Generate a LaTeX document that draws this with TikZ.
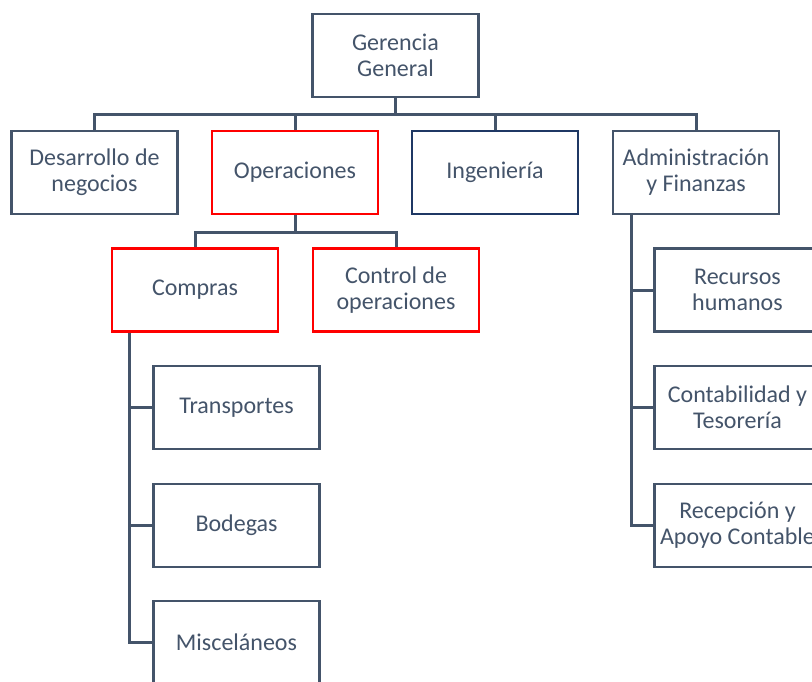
\documentclass[tikz,border=0pt]{standalone}
\usepackage{fontspec}
\setmainfont{Carlito}
\definecolor{slate}{HTML}{44546A}
\definecolor{redbox}{HTML}{FF0000}
\definecolor{navybox}{HTML}{1F3864}
\begin{document}
\begin{tikzpicture}[x=1pt,y=-1pt,
  box/.style={draw=slate,line width=2.5pt,fill=white,minimum width=166pt,minimum height=83pt,
    align=center,text=slate,inner sep=2pt,font=\fontsize{24}{26}\selectfont},
  redb/.style={box,draw=redbox},
  navyb/.style={box,draw=navybox},
  conn/.style={draw=slate,line width=3pt}]
\path[use as bounding box,clip] (0,0) rectangle (812,681);
\fill[white] (0,0) rectangle (812,681);
% nodes
\node[box] (gg) at (395.5,55.5) {Gerencia\\General};
\node[box] (des) at (94.5,172.5) {Desarrollo de\\negocios};
\node[redb] (ope) at (295,172.5) {Operaciones};
\node[navyb] (ing) at (495,172.5) {Ingeniería};
\node[box] (adm) at (696,172.5) {Administración\\y Finanzas};
\node[redb] (comp) at (195,290) {Compras};
\node[redb] (ctl) at (396,290) {Control de\\operaciones};
\node[box] (tra) at (236.5,407.5) {Transportes};
\node[box] (bod) at (236.5,525.5) {Bodegas};
\node[box] (mis) at (236.5,642.5) {Misceláneos};
\node[box] (rh) at (737.5,290) {Recursos\\humanos};
\node[box] (con) at (737.5,407.5) {Contabilidad y\\Tesorería};
\node[box] (rec) at (737.5,525.5) {Recepción y\\Apoyo Contable};
% connectors
\draw[conn] (gg.south) -- ++(0,16) -| (des.north);
\draw[conn] (gg.south) -- ++(0,16) -| (ope.north);
\draw[conn] (gg.south) -- ++(0,16) -| (ing.north);
\draw[conn] (gg.south) -- ++(0,16) -| (adm.north);
\draw[conn] (ope.south) -- ++(0,17) -| (comp.north);
\draw[conn] (ope.south) -- ++(0,17) -| (ctl.north);
\draw[conn] ([xshift=-66pt]comp.south) |- (tra.west);
\draw[conn] ([xshift=-66pt]comp.south) |- (bod.west);
\draw[conn] ([xshift=-66pt]comp.south) |- (mis.west);
\draw[conn] ([xshift=-65pt]adm.south) |- (rh.west);
\draw[conn] ([xshift=-65pt]adm.south) |- (con.west);
\draw[conn] ([xshift=-65pt]adm.south) |- (rec.west);
\end{tikzpicture}
\end{document}
